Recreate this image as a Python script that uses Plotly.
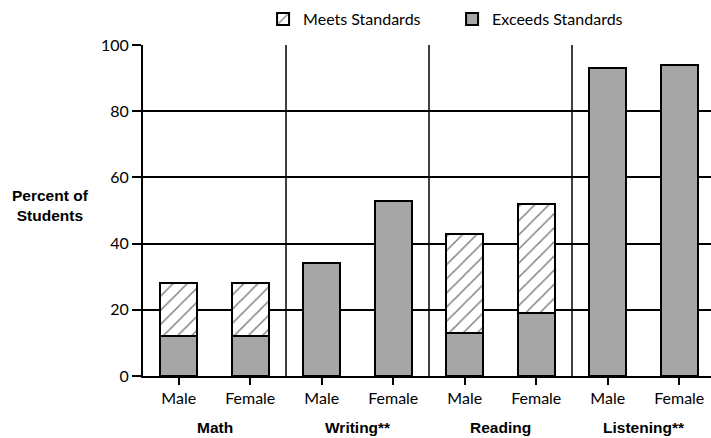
import plotly.graph_objects as go

subjects = ["Math", "Writing**", "Reading", "Listening**"]
sexes = ["Male", "Female"]
exceeds = [12, 12, 34, 53, 13, 19, 93, 94]
meets = [16, 16, 0, 0, 30, 33, 0, 0]
y_ticks = [0, 20, 40, 60, 80, 100]

n = len(subjects) * len(sexes)
xpos = list(range(n))
ticktext = sexes * len(subjects)
group_centers = [i * len(sexes) + (len(sexes) - 1) / 2 for i in range(len(subjects))]
group_bounds = [i * len(sexes) - 0.5 for i in range(1, len(subjects))]

fig = go.Figure()
fig.add_trace(go.Bar(
    x=xpos, y=exceeds, name="Exceeds Standards", legendrank=2,
    marker=dict(color="#a6a6a6", line=dict(color="black", width=2)),
))
fig.add_trace(go.Bar(
    x=xpos, y=meets, name="Meets Standards", legendrank=1,
    marker=dict(color="white", line=dict(color="black", width=2),
                pattern=dict(shape="/", fgcolor="black", bgcolor="white", size=10, solidity=0.15)),
))

for b in group_bounds:
    fig.add_shape(type="line", xref="x", yref="y", x0=b, x1=b, y0=0, y1=100,
                  line=dict(color="black", width=1.5), layer="below")

for c, s in zip(group_centers, subjects):
    fig.add_annotation(x=c, xref="x", y=-0.157, yref="paper", text=f"<b>{s}</b>",
                       showarrow=False, font=dict(family="Liberation Sans", size=15.5, color="black"),
                       xanchor="center", yanchor="middle")

fig.add_annotation(x=-0.162, xref="paper", y=0.514, yref="paper",
                   text="<b>Percent of<br>Students</b>", showarrow=False,
                   xanchor="center", yanchor="middle",
                   font=dict(family="Liberation Sans", size=15.5, color="black"), align="center")

fig.update_layout(
    width=711, height=438,
    margin=dict(l=143, r=0, t=45, b=62, autoexpand=False),
    barmode="stack", bargap=0.48,
    plot_bgcolor="white", paper_bgcolor="white",
    font=dict(family="Lato", color="black"),
    showlegend=True,
    legend=dict(orientation="h", x=0.370, xref="container", xanchor="left",
                y=1 - 19 / 438, yref="container", yanchor="middle",
                traceorder="normal",
                font=dict(family="Lato", size=16, color="black"),
                entrywidth=144, itemsizing="constant"),
    xaxis=dict(range=[-0.5, -0.5 + 568 / 71.5], tickvals=xpos, ticktext=ticktext,
               showgrid=False, ticks="outside", ticklen=7, tickwidth=1.5, tickcolor="black",
               showline=True, linecolor="black", linewidth=2, zeroline=False, automargin=False,
               tickfont=dict(family="Lato", size=16, color="black")),
    yaxis=dict(range=[0, 100], tickvals=y_ticks, showgrid=True, gridcolor="black", gridwidth=1.5,
               ticks="outside", ticklen=9, tickwidth=1.5, tickcolor="black", automargin=False,
               showline=True, linecolor="black", linewidth=2, zeroline=False,
               tickfont=dict(family="Lato", size=16, color="black")),
)

fig.write_html("out.html", config={"displayModeBar": False},
               post_script="document.body.style.margin='0';")
